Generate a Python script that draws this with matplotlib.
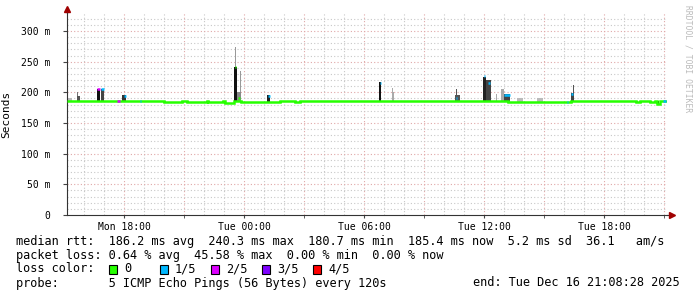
import matplotlib
matplotlib.use('Agg')
import matplotlib.pyplot as plt
from matplotlib.patches import Rectangle

# time axis in hours since Mon 00:00, 30 h window ending Tue 21:08:28
t_start = 15.141
t_end = 45.141

# median rtt (ms), step segments
med_edges = [15.14, 19.99, 20.89, 21.14, 22.14, 22.19, 22.94, 23.04, 23.49, 23.84,
             25.79, 26.54, 26.79, 36.69, 37.19, 40.34, 43.59, 43.79, 44.29, 44.54,
             44.64, 44.79, 45.14]
med_ms = [186.6, 184.8, 186.6, 184.8, 186.6, 184.8, 186.6, 183.4, 186.6, 184.0,
          186.6, 184.8, 186.6, 185.2, 184.0, 186.6, 184.8, 186.6, 184.8, 186.6,
          180.7, 186.6]

# smoke bars: start h, end h, low ms, high ms, shade
smoke_t0 = [15.14, 15.64, 15.64, 16.64, 16.84, 17.89, 23.49, 23.56, 23.64, 23.79,
            25.14, 30.74, 31.39, 31.39, 34.54, 34.59, 35.94, 36.09, 36.59, 36.84,
            36.99, 37.64, 38.64, 40.34, 40.44, 44.64]
smoke_t1 = [15.39, 15.69, 15.79, 16.79, 16.99, 18.09, 23.64, 23.61, 23.84, 23.84,
            25.29, 30.84, 31.44, 31.49, 34.79, 34.64, 36.09, 36.34, 36.64, 36.99,
            37.29, 37.94, 38.94, 40.49, 40.49, 44.74]
smoke_lo = [186, 186, 186, 186, 186, 186, 186, 242, 186, 200,
            184, 186, 200, 186, 186, 196, 186, 186, 186, 186,
            184, 184, 184, 184, 199, 179]
smoke_hi = [190, 200, 194, 206, 206, 195, 242, 274, 200, 235,
            195, 217, 207, 201, 196, 205, 225, 220, 198, 206,
            197, 190, 190, 199, 212, 186]
smoke_col = ['#bbbbbb', '#777777', '#555555', '#111111', '#444444', '#333333',
             '#111111', '#999999', '#888888', '#999999', '#222222', '#111111',
             '#aaaaaa', '#aaaaaa', '#555555', '#555555', '#222222', '#444444',
             '#aaaaaa', '#aaaaaa', '#444444', '#bbbbbb', '#bbbbbb', '#444444',
             '#555555', '#111111']

# median marks with packet loss: start h, end h, ms, lost pings
mark_t0 = [16.64, 16.84, 17.64, 17.99, 18.79, 23.54, 23.69, 25.19, 30.79, 34.59,
           35.99, 36.19, 36.99, 40.14, 40.34, 44.94]
mark_t1 = [16.79, 16.99, 17.79, 18.09, 18.84, 23.59, 23.79, 25.29, 30.84, 34.64,
           36.04, 36.29, 37.29, 40.19, 40.44, 45.09]
mark_ms = [206, 206, 186.6, 194, 186.6, 241, 190, 194, 216, 190,
           226, 216, 195, 184, 197, 186.6]
mark_loss = [2, 1, 2, 1, 1, 0, 0, 1, 1, 1, 1, 1, 1, 1, 1, 1]

loss_labels = ['0', '1/5', '2/5', '3/5', '4/5']
loss_colors = ['#26ff00', '#00b8ff', '#dd00ff', '#7e00ff', '#ff0000']

x_ticks = [18, 24, 30, 36, 42]
x_labels = ['Mon 18:00', 'Tue 00:00', 'Tue 06:00', 'Tue 12:00', 'Tue 18:00']
y_ticks = [0, 50, 100, 150, 200, 250, 300]
y_labels = ['0', '50 m', '100 m', '150 m', '200 m', '250 m', '300 m']

legend_rows = [
    'median rtt:  186.2 ms avg  240.3 ms max  180.7 ms min  185.4 ms now  5.2 ms sd  36.1   am/s',
    'packet loss: 0.64 % avg  45.58 % max  0.00 % min  0.00 % now',
    'loss color:',
    'probe:       5 ICMP Echo Pings (56 Bytes) every 120s',
]
end_text = 'end: Tue Dec 16 21:08:28 2025'

W, H = 697, 297
mono = 'DejaVu Sans Mono'
fig = plt.figure(figsize=(W / 100, H / 100), dpi=100)
fig.patch.set_facecolor('white')
ax = fig.add_axes([67 / W, (H - 215) / H, 600 / W, 202 / H])
ax.set_xlim(t_start, t_end)
ax.set_ylim(0, 202 / 0.6133)

# grid
h = int(t_start) + 1
while h < t_end:
    if h % 3 == 0:
        ax.axvline(h, color='#e0a8a8', lw=0.8, ls=(0, (1, 2)), zorder=0)
    else:
        ax.axvline(h, color='#c8c8c8', lw=0.8, ls=(0, (1, 2)), zorder=0)
    h += 1
for v in range(10, 330, 10):
    c = '#e0a8a8' if v % 50 == 0 else '#c8c8c8'
    ax.axhline(v, color=c, lw=0.8, ls=(0, (1, 2)), zorder=0)

# smoke
for a, b, lo, hi, c in zip(smoke_t0, smoke_t1, smoke_lo, smoke_hi, smoke_col):
    ax.bar(a, hi - lo, width=b - a, bottom=lo, align='edge', color=c, lw=0, zorder=2)

# median line
ax.stairs(med_ms, med_edges, baseline=None, color=loss_colors[0], lw=1.8, zorder=3)
for a, b, v, l in zip(mark_t0, mark_t1, mark_ms, mark_loss):
    ax.hlines(v, a, b, color=loss_colors[l], lw=1.8, zorder=4)

ax.set_xticks(x_ticks)
ax.set_xticklabels(x_labels, fontfamily=mono, fontsize=7)
ax.set_xticks(range(18, 46, 3), minor=True)
ax.set_yticks(y_ticks)
ax.set_yticklabels(y_labels, fontfamily=mono, fontsize=7)
ax.tick_params(axis='x', which='both', length=2, pad=3, color='#444444')
ax.tick_params(axis='y', length=3, pad=9, color='#444444')
for s in ['top', 'right']:
    ax.spines[s].set_visible(False)
for s in ['left', 'bottom']:
    ax.spines[s].set_color('#333333')
    ax.spines[s].set_linewidth(0.8)
ax.plot([0, 0], [1, 1.02], transform=ax.transAxes, color='#333333', lw=0.8, clip_on=False)
ax.plot([1, 1.008], [0, 0], transform=ax.transAxes, color='#333333', lw=0.8, clip_on=False)
ax.plot([0], [1.02], marker='^', ms=4, color='#a00000', transform=ax.transAxes, clip_on=False)
ax.plot([1.008], [0], marker='>', ms=4, color='#a00000', transform=ax.transAxes, clip_on=False)

ax.set_ylabel('Seconds', fontfamily=mono, fontsize=8, labelpad=10)
ax.yaxis.set_label_coords(-56 / 600, 0.5)

fig.text(688 / W, 1 - 5 / H, 'RRDTOOL / TOBI OETIKER', rotation=-90, ha='center', va='top',
         fontfamily=mono, fontsize=5.8, color='#bbbbbb')

row_y = [241, 255, 269, 283]
for txt, y in zip(legend_rows, row_y):
    fig.text(16 / W, 1 - y / H, txt, ha='left', va='center', fontfamily=mono, fontsize=8.6)
fig.text(680 / W, 1 - 283 / H, end_text, ha='right', va='center', fontfamily=mono, fontsize=8.6)

for i, (lab, col) in enumerate(zip(loss_labels, loss_colors)):
    x0 = 109 + 51 * i
    fig.add_artist(Rectangle((x0 / W, 1 - 273.5 / H), 8 / W, 9 / H, transform=fig.transFigure,
                             facecolor=col, edgecolor='black', lw=0.8))
    fig.text((x0 + 15) / W, 1 - 269 / H, lab, ha='left', va='center', fontfamily=mono, fontsize=8.6)

fig.savefig('out.png', dpi=100)
